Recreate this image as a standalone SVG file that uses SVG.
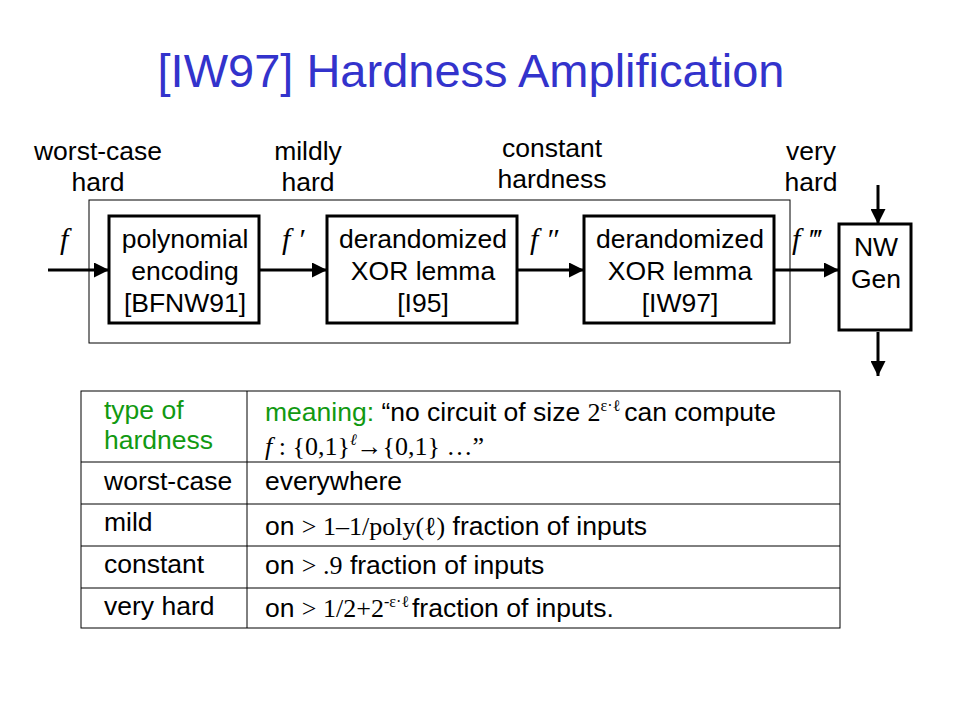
<svg xmlns="http://www.w3.org/2000/svg" width="959" height="719" viewBox="0 0 959 719">
<defs>
<style>
.s{font-family:"Liberation Sans",Arial,sans-serif;font-size:26.5px;fill:#000}
.c{text-anchor:middle}
.m{font-family:"Liberation Serif","Times New Roman",serif;font-size:26px}
.sup{font-family:"Liberation Serif","Times New Roman",serif;font-size:16px}
.fi{font-family:"Liberation Serif","Times New Roman",serif;font-style:italic;font-size:30px;fill:#000}
.g{fill:#119911}
.box{fill:#fff;stroke:#000;stroke-width:3}
.thin{fill:none;stroke:#000;stroke-width:1}
.arr{stroke:#000;stroke-width:3;fill:none;marker-end:url(#ah)}
</style>
<marker id="ah" viewBox="0 0 10 10" refX="10" refY="5" markerWidth="5" markerHeight="5" orient="auto" markerUnits="strokeWidth">
<path d="M0,0 L10,5 L0,10 Z" fill="#000"/>
</marker>
</defs>
<rect width="959" height="719" fill="#fff"/>
<text x="471" y="87" text-anchor="middle" font-family="Liberation Sans, Arial, sans-serif" font-size="47" fill="#3333CC">[IW97] Hardness Amplification</text>

<g id="labels">
<text class="s c" x="98" y="160">worst-case</text>
<text class="s c" x="98" y="191">hard</text>
<text class="s c" x="308" y="160">mildly</text>
<text class="s c" x="308" y="191">hard</text>
<text class="s c" x="552" y="157">constant</text>
<text class="s c" x="552" y="188">hardness</text>
<text class="s c" x="811" y="160">very</text>
<text class="s c" x="811" y="191">hard</text>
<text class="fi" x="60" y="249">f</text>
<text class="fi" x="282" y="249">f ′</text>
<text class="fi" x="530" y="249">f ″</text>
<text class="fi" x="792" y="249">f ‴</text>
</g>

<rect id="outer" class="thin" x="89" y="200" width="701" height="143"/>

<g id="connectors">
<line class="arr" x1="48" y1="270" x2="109" y2="270"/>
<line class="arr" x1="259" y1="270" x2="327" y2="270"/>
<line class="arr" x1="517" y1="270" x2="584" y2="270"/>
<line class="arr" x1="774" y1="270" x2="839" y2="270"/>
<line class="arr" x1="878" y1="185" x2="878" y2="224"/>
<line class="arr" x1="878" y1="332" x2="878" y2="376"/>
</g>

<g id="poly">
<rect class="box" x="109" y="216" width="150" height="107"/>
<text class="s c" x="185" y="248">polynomial</text>
<text class="s c" x="185" y="280">encoding</text>
<text class="s c" x="185" y="312">[BFNW91]</text>
</g>
<g id="xor1">
<rect class="box" x="327" y="216" width="190" height="107"/>
<text class="s c" x="423" y="248">derandomized</text>
<text class="s c" x="423" y="280">XOR lemma</text>
<text class="s c" x="423" y="312">[I95]</text>
</g>
<g id="xor2">
<rect class="box" x="584" y="216" width="190" height="107"/>
<text class="s c" x="680" y="248">derandomized</text>
<text class="s c" x="680" y="280">XOR lemma</text>
<text class="s c" x="680" y="312">[IW97]</text>
</g>
<g id="nwgen">
<rect class="box" x="839" y="224" width="72" height="106"/>
<text class="s c" x="876" y="256">NW</text>
<text class="s c" x="876" y="288">Gen</text>
</g>

<g id="table">
<rect class="thin" x="81" y="391" width="759" height="237"/>
<line class="thin" x1="247" y1="391" x2="247" y2="628"/>
<line class="thin" x1="81" y1="462" x2="840" y2="462"/>
<line class="thin" x1="81" y1="504" x2="840" y2="504"/>
<line class="thin" x1="81" y1="546" x2="840" y2="546"/>
<line class="thin" x1="81" y1="588" x2="840" y2="588"/>

<text class="s g" x="104" y="419">type of</text>
<text class="s g" x="104" y="449">hardness</text>
<text class="s" x="265" y="421"><tspan class="g">meaning:</tspan> “no circuit of size <tspan class="m" font-size="24">2</tspan><tspan class="sup" dy="-10">ε·ℓ</tspan><tspan dy="10" dx="4">can compute</tspan></text>
<text class="m" x="265" y="455" font-size="25"><tspan font-style="italic">f</tspan> : {0,1}<tspan class="sup" font-style="italic" dy="-10">ℓ</tspan><tspan dy="10">→{0,1}  …”</tspan></text>

<text class="s" x="104" y="490">worst-case</text>
<text class="s" x="265" y="490">everywhere</text>

<text class="s" x="104" y="531">mild</text>
<text class="s" x="265" y="535">on <tspan class="m">&gt; 1–1/poly(ℓ)</tspan> fraction of inputs</text>

<text class="s" x="104" y="573">constant</text>
<text class="s" x="265" y="574">on <tspan class="m">&gt; .9</tspan> fraction of inputs</text>

<text class="s" x="104" y="615">very hard</text>
<text class="s" x="265" y="617">on <tspan class="m">&gt; 1/2+2</tspan><tspan class="sup" dy="-10">-ε·ℓ</tspan><tspan dy="10" dx="3">fraction of inputs.</tspan></text>
</g>
</svg>
